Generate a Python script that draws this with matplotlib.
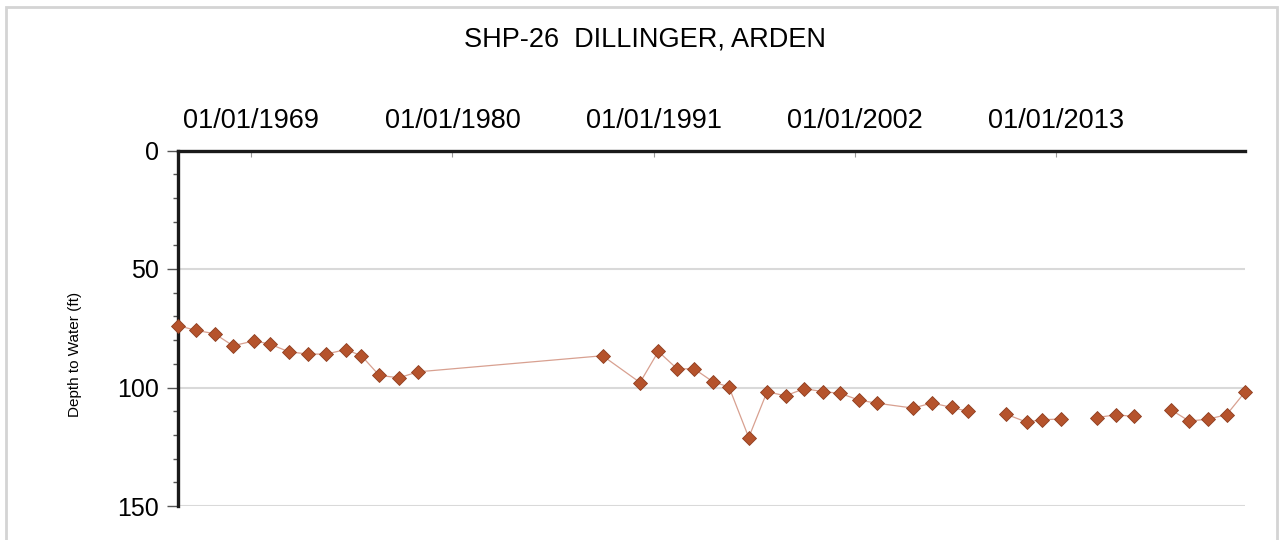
import numpy as np
import pandas as pd
import matplotlib
matplotlib.use("Agg")
import matplotlib.pyplot as plt
import matplotlib.dates as mdates
from matplotlib.ticker import MultipleLocator

plt.rcParams['font.family'] = ['Liberation Sans', 'DejaVu Sans']

# measurement dates and depth to water (ft)
dates = ["1965-01-01", "1966-01-01", "1967-01-01", "1968-01-05", "1969-03-01",
         "1970-01-10", "1971-01-20", "1972-02-05", "1973-02-01", "1974-03-05",
         "1975-01-10", "1976-01-01", "1977-02-01", "1978-02-05",
         "1988-03-15", "1990-04-01", "1991-04-01", "1992-04-10", "1993-03-15",
         "1994-03-20", "1995-02-10", "1996-03-10", "1997-03-10", "1998-03-15",
         "1999-03-20", "2000-03-25", "2001-03-15", "2002-03-15", "2003-03-05",
         "2005-03-05", "2006-03-15", "2007-04-10", "2008-03-10",
         "2010-03-25", "2011-05-15", "2012-03-15", "2013-04-01",
         "2015-03-15", "2016-04-05", "2017-03-25",
         "2019-04-05", "2020-04-05", "2021-04-20", "2022-04-20", "2023-04-22"]
depth = [73.9, 75.9, 77.3, 82.4, 80.3, 81.7, 84.9, 85.9, 85.9, 84.0,
         86.6, 94.9, 95.9, 93.4,
         86.6, 97.9, 84.8, 92.1, 92.1, 97.5, 99.8, 121.1, 101.8, 103.5,
         100.5, 101.7, 102.5, 105.3, 106.6,
         108.7, 106.5, 108.4, 110.1,
         111.2, 114.6, 113.6, 113.3,
         112.7, 111.5, 112.2,
         109.4, 114.2, 113.3, 111.5, 101.9]
# line is not drawn across these gaps (index of last point before a break)
breaks_after = [32, 36, 39]

tick_years = [1969, 1980, 1991, 2002, 2013]
title = "SHP-26  DILLINGER, ARDEN"

dt = pd.to_datetime(dates)
line_x, line_y = [], []
for i, (d, v) in enumerate(zip(dt, depth)):
    line_x.append(d)
    line_y.append(v)
    if i in breaks_after:
        line_x.append(d + pd.Timedelta(days=30))
        line_y.append(np.nan)

fig = plt.figure(figsize=(12.83, 5.40), dpi=100)
ax = fig.add_axes([178/1283, 1 - 506/540, (1245 - 178)/1283, (506 - 150.5)/540])

ax.plot(line_x, line_y, color='#d8a090', linewidth=0.9, zorder=3, clip_on=False)
ax.plot(dt, depth, linestyle='none', marker='D', markersize=7,
        markerfacecolor='#b5532c', markeredgecolor='#8e3e20', markeredgewidth=0.6,
        zorder=4, clip_on=False)

ax.set_xlim(pd.Timestamp("1965-01-01"), pd.Timestamp("2023-04-22"))
ax.set_ylim(150, 0)

ax.xaxis.tick_top()
ax.set_xticks([pd.Timestamp(f"{y}-01-01") for y in tick_years])
ax.xaxis.set_major_formatter(mdates.DateFormatter("%m/%d/%Y"))
ax.tick_params(axis='x', direction='in', length=4, width=0.8, color='#999999',
               labelsize=19.5, pad=12)

ax.yaxis.set_major_locator(MultipleLocator(50))
ax.yaxis.set_minor_locator(MultipleLocator(10))
ax.tick_params(axis='y', which='major', direction='out', length=8, width=1.0,
               color='#555555', labelsize=18, pad=6)
ax.tick_params(axis='y', which='minor', direction='out', length=3.5, width=1.0,
               color='#555555')

ax.grid(axis='y', which='major', color='#d9d9d9', linewidth=1.5)
ax.set_axisbelow(True)

for s in ['right', 'bottom']:
    ax.spines[s].set_visible(False)
for s in ['top', 'left']:
    ax.spines[s].set_linewidth(2.4)
    ax.spines[s].set_color('#1a1a1a')

fig.text(645/1283, 1 - 40/540, title, ha='center', va='center', fontsize=19.5)
fig.text(75/1283, 1 - 354/540, "Depth to Water (ft)", rotation=90,
         ha='center', va='center', fontsize=11)

# light frame around the chart
frame = plt.Rectangle((6/1283, -0.05), 1271/1283, 1 - 7/540 + 0.05,
                      transform=fig.transFigure, fill=False,
                      edgecolor='#d4d4d4', linewidth=2)
fig.patches.append(frame)

fig.savefig("out.png", dpi=100)
